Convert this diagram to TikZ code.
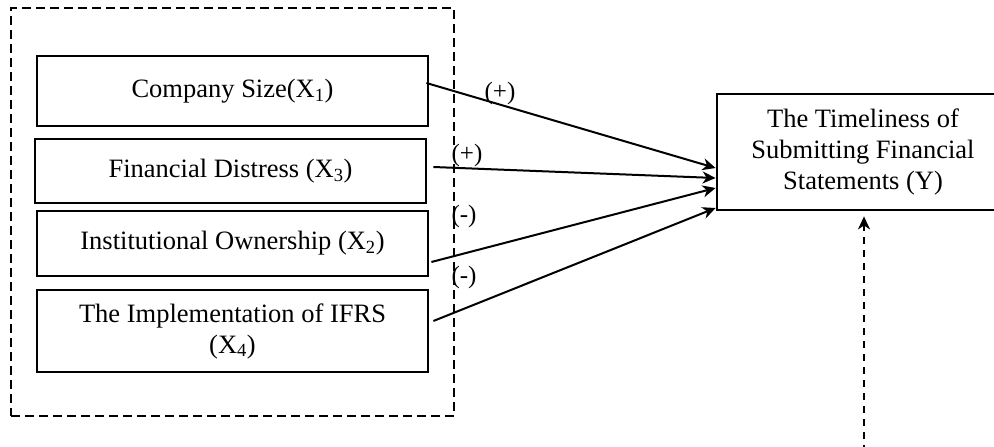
\documentclass[tikz,border=0pt]{standalone}
\usepackage{fontspec}
\setmainfont{Liberation Serif}
\usetikzlibrary{arrows.meta,calc}
\tikzset{
  var/.style={draw, line width=2.8pt, inner sep=0pt, align=center, font=\fontsize{26.5}{31}\selectfont},
  grp/.style={draw, line width=2.5pt, dash pattern=on 9pt off 5pt, inner sep=0pt},
  link/.style={line width=2pt, -{Stealth[length=13pt,width=12pt,inset=4pt]}},
  dlink/.style={line width=2pt, dash pattern=on 7pt off 6pt, -{Stealth[length=13pt,width=12pt,inset=4pt]}},
  sign/.style={inner sep=0pt, font=\fontsize{25}{29}\selectfont}
}
\begin{document}
\begin{tikzpicture}[x=1pt,y=-1pt]
\useasboundingbox (0,0) rectangle (994,447);
\clip (0,0) rectangle (994,447);
\node[grp, minimum width=443pt, minimum height=408pt] (group) at (232.5,212) {};
\node[var, minimum width=391pt, minimum height=70pt] (b1) at (232.5,91) {Company Size(X\textsubscript{1})};
\node[var, minimum width=391pt, minimum height=64pt] (b2) at (230.5,171) {Financial Distress (X\textsubscript{3})};
\node[var, minimum width=391pt, minimum height=65pt] (b3) at (232.5,243.5) {Institutional Ownership (X\textsubscript{2})};
\node[var, minimum width=391pt, minimum height=82pt] (b4) at (232.5,331) {The Implementation of IFRS\\(X\textsubscript{4})};
\node[var, minimum width=292pt, minimum height=116pt] (y) at (863,152) {The Timeliness of\\Submitting Financial\\Statements (Y)};
\draw[link] ($(b1.east)+(-3,-8)$) -- ($(y.west)+(0,16)$);
\draw[link] ($(b2.east)+(6,-4)$) -- ($(y.west)+(0,26)$);
\draw[link] ($(b3.east)+(2,18.5)$) -- ($(y.west)+(0,36)$);
\draw[link] ($(b4.east)+(4,-10)$) -- ($(y.west)+(0,56)$);
\coordinate (ext) at (864,452);
\draw[dlink] (ext) -- ($(y.south)+(1,5)$);
\node[sign] (p1) at (500,93) {(+)};
\node[sign] (p2) at (467,155) {(+)};
\node[sign] (m1) at (464,216) {(-)};
\node[sign] (m2) at (464,277) {(-)};
\end{tikzpicture}
\end{document}
